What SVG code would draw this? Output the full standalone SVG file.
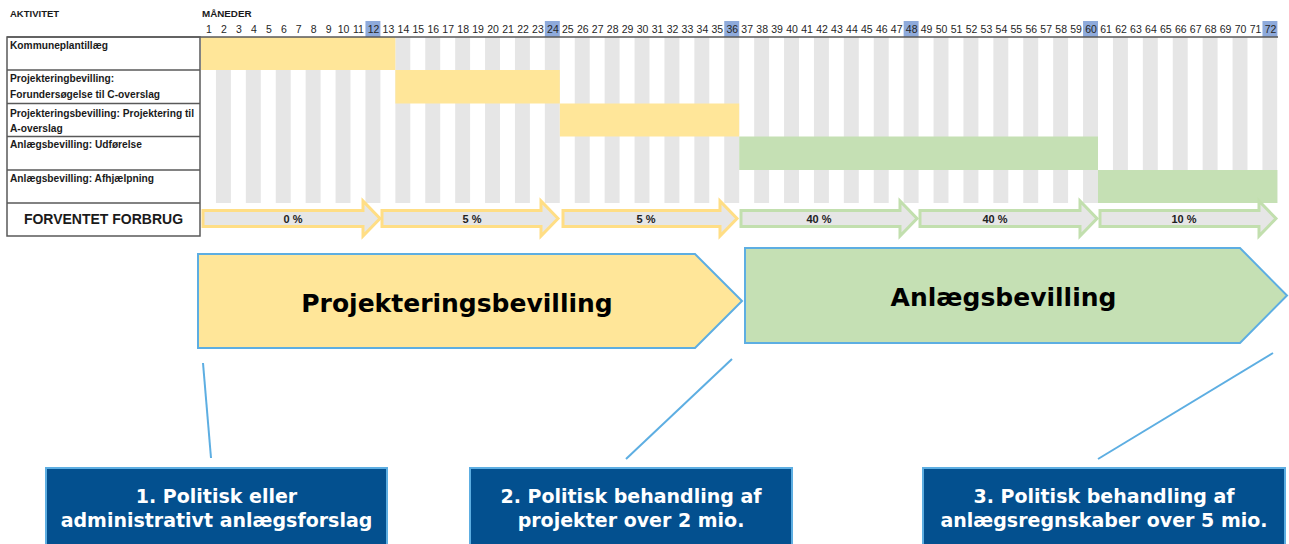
<svg xmlns="http://www.w3.org/2000/svg" width="1289" height="544" viewBox="0 0 1289 544">
<defs>
<style>
.hdr{font-family:"Liberation Sans",Arial,sans-serif;font-weight:bold;fill:#1a1a1a}
.lbl{font-family:"Liberation Sans",Arial,sans-serif;font-weight:bold;font-size:10.2px;fill:#1a1a1a}
.mon{font-family:"Liberation Sans",Arial,sans-serif;font-size:10.5px;fill:#262626;text-anchor:middle}
.pct{font-family:"Liberation Sans",Arial,sans-serif;font-weight:bold;font-size:11px;fill:#222;text-anchor:middle}
.big{font-family:"DejaVu Sans",Verdana,sans-serif;font-weight:bold;font-size:25px;fill:#000;text-anchor:middle}
.box{fill:#03508f;stroke:#5daee2;stroke-width:2}
.boxt{font-family:"DejaVu Sans",Verdana,sans-serif;font-weight:bold;font-size:19px;fill:#fff;text-anchor:middle}
.tbl{fill:none;stroke:#595959;stroke-width:1.5}
.hl{fill:#8eaadb}
.ya{fill:#e6e6e6;stroke:#ffde85;stroke-width:3}
.ga{fill:#e6e6e6;stroke:#c2dfae;stroke-width:3}
.conn{stroke:#5daee2;stroke-width:2;fill:none}
</style>
<pattern id="stripes" x="201" y="0" width="29.9" height="544" patternUnits="userSpaceOnUse">
<rect x="14.95" y="0" width="14.95" height="544" fill="#e6e6e6"/>
</pattern>
</defs>
<rect width="1289" height="544" fill="#fff"/>

<g id="header">
<text class="hdr" x="10" y="17" font-size="9.5">AKTIVITET</text>
<text class="hdr" x="202" y="17" font-size="9.8">MÅNEDER</text>
<rect class="hl" x="365.45" y="21" width="14.95" height="16"/>
<rect class="hl" x="544.85" y="21" width="14.95" height="16"/>
<rect class="hl" x="724.25" y="21" width="14.95" height="16"/>
<rect class="hl" x="903.65" y="21" width="14.95" height="16"/>
<rect class="hl" x="1083.05" y="21" width="14.95" height="16"/>
<rect class="hl" x="1262.45" y="21" width="14.95" height="16"/>
<g id="months">
<text class="mon" x="209.0" y="33">1</text><text class="mon" x="224.0" y="33">2</text><text class="mon" x="238.9" y="33">3</text><text class="mon" x="253.9" y="33">4</text><text class="mon" x="268.8" y="33">5</text><text class="mon" x="283.8" y="33">6</text><text class="mon" x="298.7" y="33">7</text><text class="mon" x="313.7" y="33">8</text><text class="mon" x="328.6" y="33">9</text><text class="mon" x="343.6" y="33">10</text><text class="mon" x="358.5" y="33">11</text><text class="mon" x="373.5" y="33">12</text>
<text class="mon" x="388.4" y="33">13</text><text class="mon" x="403.4" y="33">14</text><text class="mon" x="418.3" y="33">15</text><text class="mon" x="433.3" y="33">16</text><text class="mon" x="448.2" y="33">17</text><text class="mon" x="463.2" y="33">18</text><text class="mon" x="478.1" y="33">19</text><text class="mon" x="493.1" y="33">20</text><text class="mon" x="508.0" y="33">21</text><text class="mon" x="523.0" y="33">22</text><text class="mon" x="537.9" y="33">23</text><text class="mon" x="552.9" y="33">24</text>
<text class="mon" x="567.8" y="33">25</text><text class="mon" x="582.8" y="33">26</text><text class="mon" x="597.7" y="33">27</text><text class="mon" x="612.7" y="33">28</text><text class="mon" x="627.6" y="33">29</text><text class="mon" x="642.6" y="33">30</text><text class="mon" x="657.5" y="33">31</text><text class="mon" x="672.5" y="33">32</text><text class="mon" x="687.4" y="33">33</text><text class="mon" x="702.4" y="33">34</text><text class="mon" x="717.3" y="33">35</text><text class="mon" x="732.3" y="33">36</text>
<text class="mon" x="747.2" y="33">37</text><text class="mon" x="762.2" y="33">38</text><text class="mon" x="777.1" y="33">39</text><text class="mon" x="792.1" y="33">40</text><text class="mon" x="807.0" y="33">41</text><text class="mon" x="822.0" y="33">42</text><text class="mon" x="836.9" y="33">43</text><text class="mon" x="851.9" y="33">44</text><text class="mon" x="866.8" y="33">45</text><text class="mon" x="881.8" y="33">46</text><text class="mon" x="896.7" y="33">47</text><text class="mon" x="911.7" y="33">48</text>
<text class="mon" x="926.6" y="33">49</text><text class="mon" x="941.6" y="33">50</text><text class="mon" x="956.5" y="33">51</text><text class="mon" x="971.5" y="33">52</text><text class="mon" x="986.4" y="33">53</text><text class="mon" x="1001.4" y="33">54</text><text class="mon" x="1016.3" y="33">55</text><text class="mon" x="1031.3" y="33">56</text><text class="mon" x="1046.2" y="33">57</text><text class="mon" x="1061.2" y="33">58</text><text class="mon" x="1076.1" y="33">59</text><text class="mon" x="1091.1" y="33">60</text>
<text class="mon" x="1106.0" y="33">61</text><text class="mon" x="1121.0" y="33">62</text><text class="mon" x="1135.9" y="33">63</text><text class="mon" x="1150.9" y="33">64</text><text class="mon" x="1165.8" y="33">65</text><text class="mon" x="1180.8" y="33">66</text><text class="mon" x="1195.7" y="33">67</text><text class="mon" x="1210.7" y="33">68</text><text class="mon" x="1225.6" y="33">69</text><text class="mon" x="1240.6" y="33">70</text><text class="mon" x="1255.5" y="33">71</text><text class="mon" x="1270.5" y="33">72</text>
</g>
</g>

<g id="grid">
<rect x="201" y="37" width="1076.4" height="166" fill="url(#stripes)"/>
</g>

<g id="bars">
<rect id="bar-kommuneplan" x="201" y="37" width="194.35" height="33" fill="#ffe699"/>
<rect id="bar-forundersoegelse" x="395.35" y="70" width="164.45" height="33.5" fill="#ffe699"/>
<rect id="bar-projektering" x="559.8" y="103.5" width="179.4" height="33" fill="#ffe699"/>
<rect id="bar-udfoerelse" x="739.2" y="136.5" width="358.8" height="33.5" fill="#c5e0b4"/>
<rect id="bar-afhjaelpning" x="1098" y="170" width="179.4" height="33" fill="#c5e0b4"/>
</g>

<g id="table">
<line x1="7" y1="37" x2="1278" y2="37" stroke="#595959" stroke-width="1.5"/>
<rect class="tbl" x="7" y="37" width="193" height="199"/>
<line class="tbl" x1="7" y1="70" x2="200" y2="70"/>
<line class="tbl" x1="7" y1="103.5" x2="200" y2="103.5"/>
<line class="tbl" x1="7" y1="136.5" x2="200" y2="136.5"/>
<line class="tbl" x1="7" y1="170" x2="200" y2="170"/>
<line class="tbl" x1="7" y1="203" x2="200" y2="203"/>
<text class="lbl" x="10" y="49">Kommuneplantillæg</text>
<text class="lbl" x="10" y="82">Projekteringbevilling:</text>
<text class="lbl" x="10" y="98">Forundersøgelse til C-overslag</text>
<text class="lbl" x="10" y="117">Projekteringsbevilling: Projektering til</text>
<text class="lbl" x="10" y="132">A-overslag</text>
<text class="lbl" x="10" y="148">Anlægsbevilling: Udførelse</text>
<text class="lbl" x="10" y="182">Anlægsbevilling: Afhjælpning</text>
<text class="hdr" x="103.5" y="224" font-size="14" text-anchor="middle">FORVENTET FORBRUG</text>
</g>

<g id="forbrug">
<g id="f1"><path class="ya" d="M203,210.5 H363 V201 L380,218.5 L363,236 V226.5 H203 Z"/><text class="pct" x="293" y="222.5">0 %</text></g>
<g id="f2"><path class="ya" d="M382,210.5 H541 V201 L558,218.5 L541,236 V226.5 H382 Z"/><text class="pct" x="472" y="222.5">5 %</text></g>
<g id="f3"><path class="ya" d="M563,210.5 H720 V201 L737,218.5 L720,236 V226.5 H563 Z"/><text class="pct" x="646" y="222.5">5 %</text></g>
<g id="f4"><path class="ga" d="M741,210.5 H900 V201 L917,218.5 L900,236 V226.5 H741 Z"/><text class="pct" x="819" y="222.5">40 %</text></g>
<g id="f5"><path class="ga" d="M920,210.5 H1080 V201 L1097,218.5 L1080,236 V226.5 H920 Z"/><text class="pct" x="995" y="222.5">40 %</text></g>
<g id="f6"><path class="ga" d="M1100,210.5 H1259 V201 L1276,218.5 L1259,236 V226.5 H1100 Z"/><text class="pct" x="1184" y="222.5">10 %</text></g>
</g>

<g id="projekteringsbevilling">
<polygon points="198,254 695,254 742,301 695,348 198,348" fill="#ffe699" stroke="#5daee2" stroke-width="2"/>
<text class="big" x="457" y="312">Projekteringsbevilling</text>
</g>
<g id="anlaegsbevilling">
<polygon points="745,248 1240,248 1287,295.5 1240,343 745,343" fill="#c5e0b4" stroke="#5daee2" stroke-width="2"/>
<text class="big" x="1003.5" y="306">Anlægsbevilling</text>
</g>

<g id="connectors">
<line class="conn" x1="203" y1="363" x2="211" y2="458"/>
<line class="conn" x1="732" y1="359" x2="626" y2="459"/>
<line class="conn" x1="1273" y1="353" x2="1098" y2="459"/>
</g>

<g id="step1">
<rect class="box" x="46" y="468" width="341" height="80"/>
<text class="boxt" x="216.5" y="503">1. Politisk eller</text>
<text class="boxt" x="216.5" y="527">administrativt anlægsforslag</text>
</g>
<g id="step2">
<rect class="box" x="470" y="468" width="322" height="80"/>
<text class="boxt" x="631" y="503">2. Politisk behandling af</text>
<text class="boxt" x="631" y="527">projekter over 2 mio.</text>
</g>
<g id="step3">
<rect class="box" x="923" y="468" width="362" height="80"/>
<text class="boxt" x="1104" y="503">3. Politisk behandling af</text>
<text class="boxt" x="1104" y="527">anlægsregnskaber over 5 mio.</text>
</g>
</svg>
